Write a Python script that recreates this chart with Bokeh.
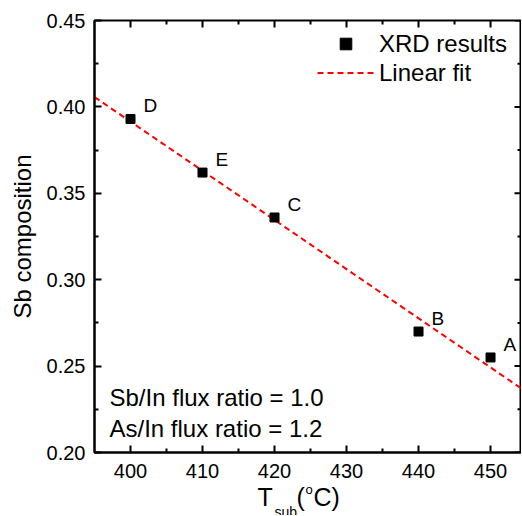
import numpy as np
from bokeh.plotting import figure
from bokeh.layouts import column
from bokeh.models import (Range1d, FixedTicker, Label, Legend, LegendItem,
                          NumeralTickFormatter, ColumnDataSource)
from bokeh.embed import file_html
from bokeh.resources import INLINE
from bokeh.core.properties import value

# ---- data ----
t_sub = [400, 410, 420, 440, 450]
sb_comp = [0.393, 0.362, 0.336, 0.270, 0.255]
sample = ["D", "E", "C", "B", "A"]
x_ticks = [400, 410, 420, 430, 440, 450]
y_ticks = [0.20, 0.25, 0.30, 0.35, 0.40, 0.45]
notes = ["Sb/In flux ratio = 1.0", "As/In flux ratio = 1.2"]
legend_labels = ["XRD results", "Linear fit"]
y_title = "Sb composition"
x_title_parts = ["T", "sub", "(", "o", "C)"]

X0, X1 = 395, 454.3
Y0, Y1 = 0.20, 0.45

slope, intercept = np.polyfit(t_sub, sb_comp, 1)
fit_x = [X0, X1]
fit_y = [slope * x + intercept for x in fit_x]

x_minor = [(a + b) / 2 for a, b in zip(x_ticks[:-1], x_ticks[1:])]
y_minor = [(a + b) / 2 for a, b in zip(y_ticks[:-1], y_ticks[1:])]

FONT = "Liberation Sans"
W = 521
LEFT = 94

p = figure(width=W, height=486, output_backend="svg", toolbar_location=None, title=None,
           x_range=Range1d(X0, X1), y_range=Range1d(Y0, Y1),
           min_border_left=LEFT, min_border_right=0, min_border_top=20, min_border_bottom=34)
p.outline_line_color = "black"
p.outline_line_width = 2
p.xgrid.visible = False
p.ygrid.visible = False
p.background_fill_color = "white"
p.border_fill_color = "white"


def style(ax, ticker):
    ax.ticker = ticker
    ax.major_tick_in = 7
    ax.major_tick_out = 0
    ax.minor_tick_in = 4
    ax.minor_tick_out = 0
    ax.axis_line_width = 2
    ax.major_tick_line_width = 2
    ax.minor_tick_line_width = 2
    ax.axis_line_color = "black"
    ax.major_tick_line_color = "black"
    ax.minor_tick_line_color = "black"
    ax.major_label_text_font = FONT
    ax.major_label_text_color = "black"
    ax.major_label_text_font_size = "20px"


xa = p.xaxis[0]
style(xa, FixedTicker(ticks=x_ticks, minor_ticks=x_minor))
xa.major_label_standoff = 11

ya = p.yaxis[0]
style(ya, FixedTicker(ticks=y_ticks, minor_ticks=y_minor))
ya.formatter = NumeralTickFormatter(format="0.00")
ya.major_label_standoff = 9
ya.axis_label = y_title
ya.axis_label_text_font = FONT
ya.axis_label_text_font_size = "24px"
ya.axis_label_text_font_style = "normal"
ya.axis_label_text_color = "black"
ya.axis_label_standoff = 8

# mirrored inward ticks on the top and right edges (clipped to the frame)
p.scatter(x_ticks, [Y1] * len(x_ticks), marker="dash", angle=np.pi / 2, size=14,
          line_color="black", line_width=2)
p.scatter(x_minor, [Y1] * len(x_minor), marker="dash", angle=np.pi / 2, size=8,
          line_color="black", line_width=2)
p.scatter([X1] * len(y_ticks), y_ticks, marker="dash", size=14,
          line_color="black", line_width=2)
p.scatter([X1] * len(y_minor), y_minor, marker="dash", size=8,
          line_color="black", line_width=2)

# ---- data marks ----
r_fit = p.line(fit_x, fit_y, line_color="#ff0000", line_width=2, line_dash="6 4")
r_pts = p.scatter(t_sub, sb_comp, marker="square", size=9, color="black")

src = ColumnDataSource(dict(x=t_sub, y=sb_comp, t=sample))
p.text("x", "y", text="t", source=src, x_offset=13, y_offset=-13,
       text_font=value(FONT), text_font_size="19px", text_baseline="middle",
       text_align="left", text_color="black")

legend = Legend(items=[LegendItem(label=legend_labels[0], renderers=[r_pts]),
                       LegendItem(label=legend_labels[1], renderers=[r_fit])],
                location=(223, 365), glyph_width=57, glyph_height=29, label_height=29,
                label_standoff=5, spacing=0, padding=0, margin=0,
                border_line_color=None, background_fill_alpha=0,
                label_text_font=FONT, label_text_font_size="24px", label_text_color="black")
p.add_layout(legend)

# ---- annotation notes ----
for txt, yo in zip(notes, [55, 24]):
    p.add_layout(Label(x=X0, y=Y0, x_offset=15, y_offset=yo, text=txt,
                       text_font=FONT, text_font_size="24px", text_color="black",
                       text_baseline="alphabetic"))

# ---- x axis title strip: T_sub(°C) ----
p2 = figure(width=W, height=29, output_backend="svg", toolbar_location=None, title=None,
            x_range=p.x_range, y_range=Range1d(0, 1),
            x_axis_location=None, y_axis_location=None,
            min_border_left=LEFT, min_border_right=0, min_border_top=0, min_border_bottom=0)
p2.outline_line_color = None
p2.xgrid.visible = False
p2.ygrid.visible = False
p2.background_fill_color = "white"
p2.border_fill_color = "white"

x_off = [163, 180, 202, 211, 219]
y_off = [10, 25, 10, 3, 10]
sizes = ["25px", "14px", "25px", "13px", "25px"]
for txt, xo, yo, fs in zip(x_title_parts, x_off, y_off, sizes):
    p2.text([X0], [1], text=[txt], x_offset=xo, y_offset=yo,
            text_font=value(FONT), text_font_size=fs, text_color="black",
            text_baseline="middle", text_align="left")

layout = column(p, p2, spacing=0)
open("out.html", "w").write(file_html(layout, INLINE))
